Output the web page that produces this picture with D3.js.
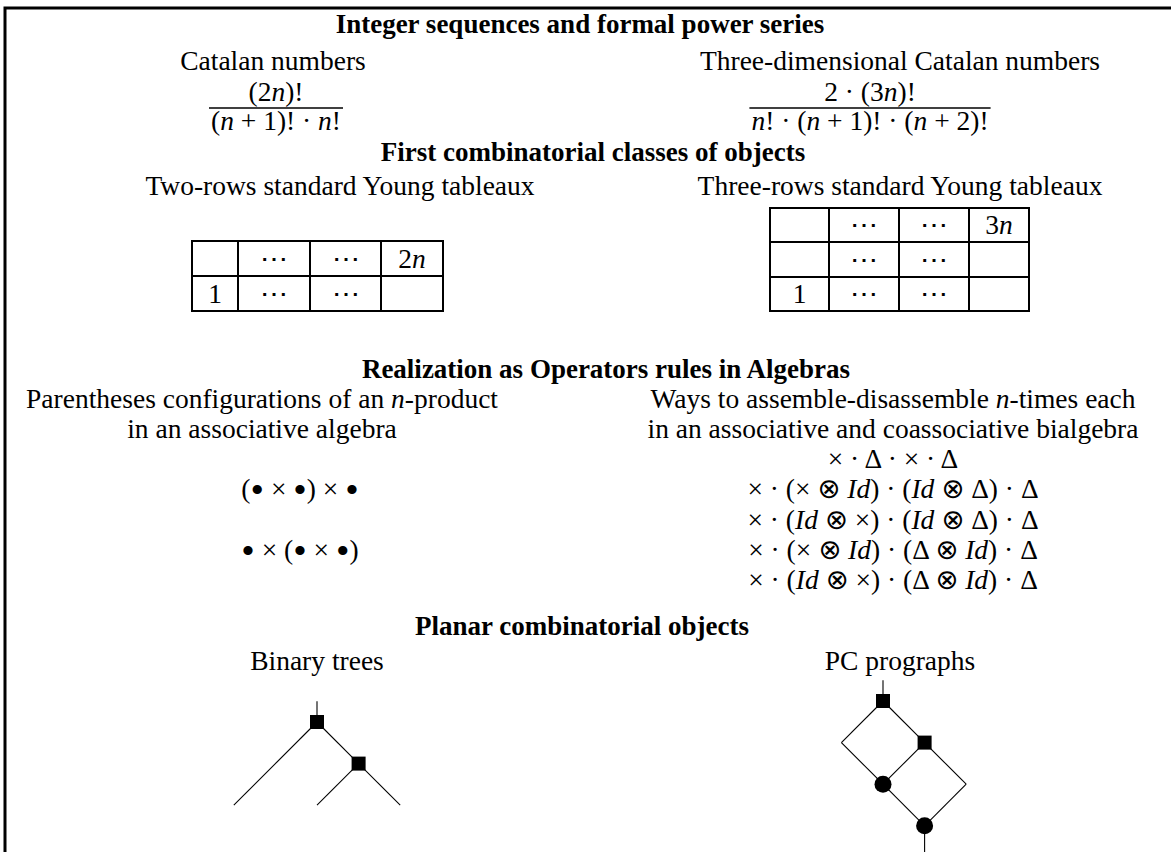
<!DOCTYPE html>
<html><head><meta charset="utf-8">
<script src="https://cdn.jsdelivr.net/npm/d3@7"></script>
<style>
body{margin:0;background:#fff}
svg{display:block}
text{font-family:"Liberation Serif","DejaVu Serif",serif;fill:#000;white-space:pre}
.bold{font-weight:bold}
.otimes{font-family:"DejaVu Sans",sans-serif}
</style>
</head><body><script>
// ---------------- data ----------------
const sectionTitles = [
  "Integer sequences and formal power series",
  "First combinatorial classes of objects",
  "Realization as Operators rules in Algebras",
  "Planar combinatorial objects"
];
// |...| marks italic (math) segments
const leftHeads = [
  ["Catalan numbers"],
  ["Two-rows standard Young tableaux"],
  ["Parentheses configurations of an |n|-product", "in an associative algebra"],
  ["Binary trees"]
];
const rightHeads = [
  ["Three-dimensional Catalan numbers"],
  ["Three-rows standard Young tableaux"],
  ["Ways to assemble-disassemble |n|-times each", "in an associative and coassociative bialgebra"],
  ["PC prographs"]
];
const catalanNum = "(2|n|)!";
const catalanDen = "(|n| + 1)! · |n|!";
const catalan3Num = "2 · (3|n|)!";
const catalan3Den = "|n|! · (|n| + 1)! · (|n| + 2)!";
const youngTwoRows = [
  ["", "⋯", "⋯", "2|n|"],
  ["1", "⋯", "⋯", ""]
];
const youngThreeRows = [
  ["", "⋯", "⋯", "3|n|"],
  ["", "⋯", "⋯", ""],
  ["1", "⋯", "⋯", ""]
];
const parenthesizations = ["(• × •) × •", "• × (• × •)"];
const bialgebraWords = [
  "× · Δ · × · Δ",
  "× · (× ⊗ |Id|) · (|Id| ⊗ Δ) · Δ",
  "× · (|Id| ⊗ ×) · (|Id| ⊗ Δ) · Δ",
  "× · (× ⊗ |Id|) · (Δ ⊗ |Id|) · Δ",
  "× · (|Id| ⊗ ×) · (Δ ⊗ |Id|) · Δ"
];
// planar objects in abstract grid units
const binaryTreeEdges = [[[0,-0.5],[0,0]],[[0,0],[-2,2]],[[0,0],[1,1]],[[1,1],[0,2]],[[1,1],[2,2]]];
const binaryTreeNodes = [{x:0,y:0,shape:"square"},{x:1,y:1,shape:"square"}];
const prographEdges = [[[0,-0.5],[0,0]],[[0,0],[-1,1]],[[-1,1],[0,2]],[[0,0],[1,1]],[[1,1],[0,2]],
  [[1,1],[2,2]],[[2,2],[1,3]],[[0,2],[1,3]],[[1,3],[1,3.7]]];
const prographNodes = [{x:0,y:0,shape:"square"},{x:1,y:1,shape:"square"},{x:0,y:2,shape:"circle"},{x:1,y:3,shape:"circle"}];

// ---------------- layout ----------------
const W = 1171, H = 852, FS = 27.5, FSB = 27;
const L = {
  titleX: [580, 593, 606, 582], titleY: [33, 161, 378, 635],
  leftX: [273, 340, 262, 317], rightX: [900, 900, 893, 900],
  headY: [[70], [195], [408, 438], [670]],
  fracLeftX: 276, fracRightX: 870, numY: 101, barY: 108, denY: 130,
  twoCols: [192, 238, 310, 381, 443], twoRows: [241, 276, 311],
  threeCols: [770, 829, 899, 969, 1029], threeRows: [208, 242, 277, 311],
  parenX: 300, parenY: [498, 559],
  bialX: 893, bialY0: 468, bialStep: 30.3,
  treeOrigin: [317, 722], progOrigin: [883, 701], unit: 41.6
};

const svg = d3.select("body").append("svg").attr("width", W).attr("height", H);

function mtext(g, str, x, y, size, cls) {
  const t = g.append("text").attr("x", x).attr("y", y).attr("text-anchor", "middle")
    .attr("font-size", size);
  if (cls) t.attr("class", cls);
  str.split("|").forEach((s, i) => {
    if (!s.length) return;
    if (i % 2) { t.append("tspan").text(s).attr("font-style", "italic"); return; }
    s.split(/([•⊗])/).forEach(p => {
      if (!p.length) return;
      const ts = t.append("tspan").text(p);
      if (p === "•") ts.attr("font-size", size * 1.4).attr("baseline-shift", "-5px");
      if (p === "⊗") ts.attr("class", "otimes");
    });
  });
  return t;
}

// frame
svg.append("path").attr("d", d3.line()([[5, H], [5, 8], [W, 8]]))
  .attr("fill", "none").attr("stroke", "#000").attr("stroke-width", 3);

// section titles
sectionTitles.forEach((s, i) => mtext(svg, s, L.titleX[i], L.titleY[i], FSB, "bold"));

// heads
leftHeads.forEach((lines, i) => lines.forEach((s, j) => mtext(svg, s, L.leftX[i], L.headY[i][j], FS)));
rightHeads.forEach((lines, i) => lines.forEach((s, j) => mtext(svg, s, L.rightX[i], L.headY[i][j], FS)));

// fractions
function fraction(cx, num, den) {
  const a = mtext(svg, num, cx, L.numY, FS);
  const b = mtext(svg, den, cx, L.denY, FS);
  const w = Math.max(a.node().getComputedTextLength(), b.node().getComputedTextLength()) + 4;
  svg.append("line").attr("x1", cx - w / 2).attr("x2", cx + w / 2)
    .attr("y1", L.barY).attr("y2", L.barY).attr("stroke", "#000").attr("stroke-width", 1.6);
}
fraction(L.fracLeftX, catalanNum, catalanDen);
fraction(L.fracRightX, catalan3Num, catalan3Den);

// Young tableaux
function tableau(rows, cols, rowsY) {
  const g = svg.append("g");
  const x = d3.scaleOrdinal().domain(d3.range(cols.length)).range(cols);
  const y = d3.scaleOrdinal().domain(d3.range(rowsY.length)).range(rowsY);
  rows.forEach((r, ri) => r.forEach((c, ci) => {
    g.append("rect").attr("x", x(ci)).attr("y", y(ri))
      .attr("width", x(ci + 1) - x(ci)).attr("height", y(ri + 1) - y(ri))
      .attr("fill", "none").attr("stroke", "#000").attr("stroke-width", 2);
    if (c) mtext(g, c, (x(ci) + x(ci + 1)) / 2, (y(ri) + y(ri + 1)) / 2 + 9, FS);
  }));
}
tableau(youngTwoRows, L.twoCols, L.twoRows);
tableau(youngThreeRows, L.threeCols, L.threeRows);

// operator words
parenthesizations.forEach((s, i) => mtext(svg, s, L.parenX, L.parenY[i], FS));
const by = d3.scaleLinear().domain([0, 1]).range([L.bialY0, L.bialY0 + L.bialStep]);
bialgebraWords.forEach((s, i) => mtext(svg, s, L.bialX, by(i), FS));

// planar diagrams
function diagram(origin, edges, nodes) {
  const x = d3.scaleLinear().domain([0, 1]).range([origin[0], origin[0] + L.unit]);
  const y = d3.scaleLinear().domain([0, 1]).range([origin[1], origin[1] + L.unit]);
  const g = svg.append("g");
  edges.forEach(e => g.append("path").attr("d", d3.line().x(p => x(p[0])).y(p => y(p[1]))(e))
    .attr("stroke", "#000").attr("stroke-width", 1.1).attr("fill", "none"));
  nodes.forEach(n => {
    if (n.shape === "square") g.append("rect").attr("x", x(n.x) - 7).attr("y", y(n.y) - 7)
      .attr("width", 14).attr("height", 14).attr("fill", "#000");
    else g.append("circle").attr("cx", x(n.x)).attr("cy", y(n.y)).attr("r", 8.5).attr("fill", "#000");
  });
}
diagram(L.treeOrigin, binaryTreeEdges, binaryTreeNodes);
diagram(L.progOrigin, prographEdges, prographNodes);
</script></body></html>
